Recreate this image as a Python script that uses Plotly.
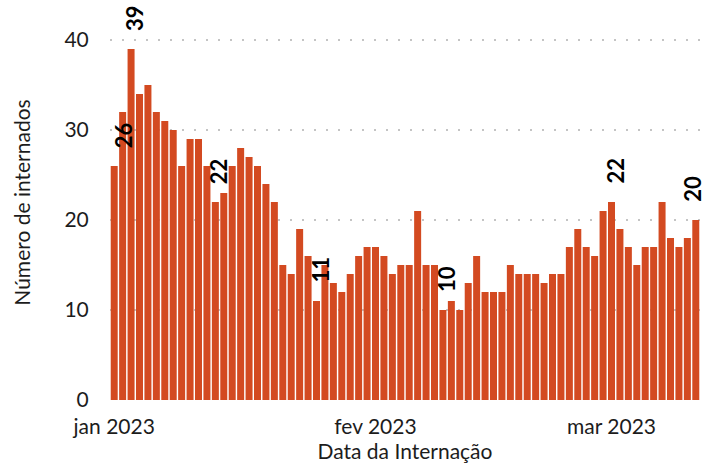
import pandas as pd
import plotly.graph_objects as go

# ---- data ----
start_date = "2023-01-01"
internados = [26, 32, 39, 34, 35, 32, 31, 30, 26, 29,
              29, 26, 22, 23, 26, 28, 27, 26, 24, 22,
              15, 14, 19, 16, 11, 15, 13, 12, 14, 16,
              17, 17, 16, 14, 15, 15, 21, 15, 15, 10,
              11, 10, 13, 16, 12, 12, 12, 15, 14, 14,
              14, 13, 14, 14, 17, 19, 17, 16, 21, 22,
              19, 17, 15, 17, 17, 22, 18, 17, 18, 20]
datas = pd.date_range(start_date, periods=len(internados), freq="D")

label_days = ["2023-01-01", "2023-01-03", "2023-01-13", "2023-01-25",
              "2023-02-09", "2023-03-01", "2023-03-11"]
tick_vals = ["2023-01-01", "2023-02-01", "2023-03-01"]
tick_text = ["jan 2023", "fev 2023", "mar 2023"]
y_ticks = [0, 10, 20, 30, 40]

# ---- style ----
BAR = "#D34A21"
FONT = "Lato"
TXT = "#1c1c1c"
label_xshift = {"2023-01-01": 9, "2023-03-11": -4}

fig = go.Figure()
fig.add_trace(go.Bar(x=datas, y=internados, marker=dict(color=BAR, line=dict(width=0)),
                     hoverinfo="x+y"))

value_by_day = dict(zip(datas.strftime("%Y-%m-%d"), internados))
for d in label_days:
    v = value_by_day[d]
    fig.add_annotation(x=d, y=v, text=f"<b>{v}</b>", showarrow=False,
                       textangle=-90, yanchor="bottom", xanchor="center",
                       yshift=16, xshift=label_xshift.get(d, 3),
                       font=dict(family=FONT, size=22, color="black", weight=900))

fig.update_layout(
    width=706, height=465,
    margin=dict(l=110, r=6, t=5, b=65, autoexpand=False),
    plot_bgcolor="white", paper_bgcolor="white",
    bargap=0.17, showlegend=False,
    font=dict(family=FONT, size=21, color=TXT),
)
fig.update_xaxes(
    range=[pd.Timestamp(start_date) - pd.Timedelta(hours=12),
           datas[-1] + pd.Timedelta(hours=12)],
    tickvals=tick_vals, ticktext=tick_text,
    showgrid=False, zeroline=False, showline=False,
    ticks="outside", ticklen=8, tickcolor="rgba(0,0,0,0)",
    title=dict(text="Data da Internação", standoff=5, font=dict(size=21)),
    tickfont=dict(size=21), automargin=False,
)
fig.update_yaxes(
    range=[0, 395 / 9],
    tickvals=y_ticks,
    showgrid=True, gridcolor="#c4c4c4", gridwidth=2, griddash="2px,10px",
    zeroline=False, showline=False,
    ticks="outside", ticklen=16, tickcolor="rgba(0,0,0,0)",
    title=dict(text="Número de internados", standoff=28, font=dict(size=21)),
    tickfont=dict(size=21), automargin=False,
)

fig.write_html("out.html", config={"displayModeBar": False},
               post_script="document.body.style.margin='0';")
